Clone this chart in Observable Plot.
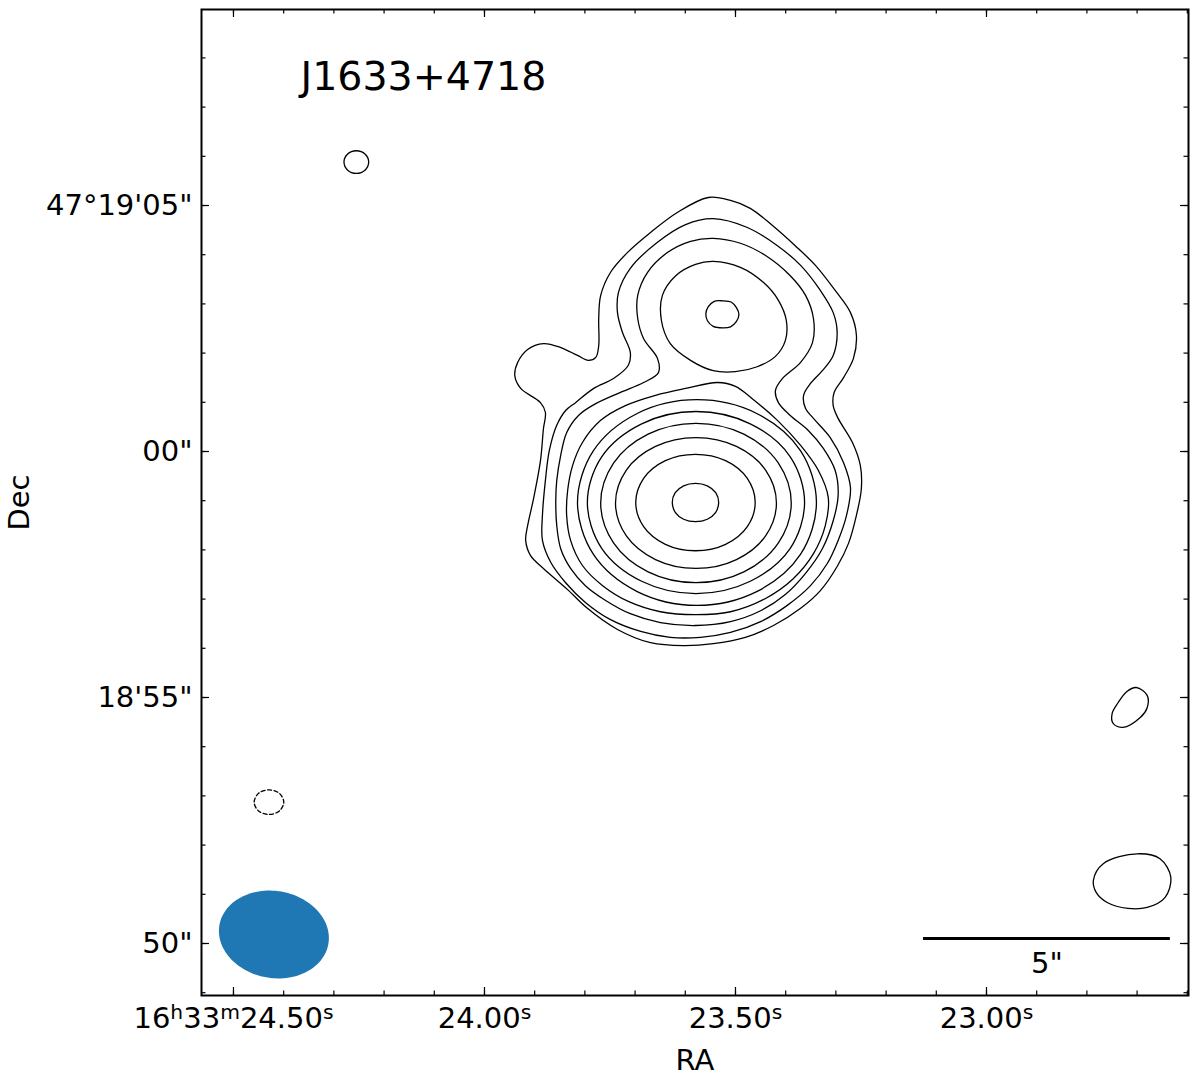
<!DOCTYPE html>
<html>
<head>
<meta charset="utf-8">
<script src="https://cdn.jsdelivr.net/npm/d3@7"></script>
<script src="https://cdn.jsdelivr.net/npm/@observablehq/plot@0.6"></script>
<style>
  html, body { margin: 0; padding: 0; background: #fff; }
  #chart svg { display: block; }
</style>
</head>
<body>
<div id="chart"></div>
<script>
// ---------------- DATA ----------------
const sourceName = "J1633+4718";

// Reference position for offsets: RA 16h33m23.5797s, Dec 47°18'58.963"
const refRA = 23.5797;   // seconds of RA past 16h33m
const refDec = 58.963;   // arcsec past 47°18'

// Contours as [east offset ("), north offset (")] from the reference position
const contour1 = [[-0.26,6.20],[-0.71,6.14],[-1.11,5.98],[-1.56,5.63],[-2.02,5.22],[-2.43,4.82],[-2.83,4.31],[-3.14,3.86],[-3.26,3.40],[-3.20,2.93],[-3.00,2.54],[-2.81,2.24],[-2.79,1.97],[-2.89,1.71],[-3.18,1.22],[-3.34,0.75],[-3.36,0.28],[-3.26,-0.26],[-3.10,-0.83],[-2.87,-1.30],[-2.53,-1.79],[-2.13,-2.15],[-1.58,-2.50],[-1.01,-2.74],[-0.36,-2.87],[0.24,-2.91],[0.91,-2.85],[1.58,-2.58],[2.19,-2.15],[2.59,-1.77],[3.08,-1.34],[3.34,-1.08],[3.44,-0.77],[3.40,-0.47],[3.28,0.08],[3.14,0.85],[3.08,1.50],[3.04,1.83],[3.14,2.03],[3.54,2.32],[3.66,2.58],[3.60,2.85],[3.40,3.11],[3.08,3.23],[2.73,3.15],[2.39,2.99],[2.17,2.89],[2.02,2.95],[1.96,3.19],[1.96,3.74],[1.92,4.21],[1.72,4.68],[1.38,5.08],[0.91,5.49],[0.36,5.90]];

const contour2 = [[-0.36,5.77],[-1.05,5.59],[-1.66,5.22],[-2.13,4.82],[-2.53,4.31],[-2.79,3.86],[-2.87,3.46],[-2.79,2.99],[-2.57,2.68],[-2.33,2.42],[-2.19,2.18],[-2.23,1.91],[-2.39,1.71],[-2.73,1.32],[-3.00,0.81],[-3.14,0.30],[-3.06,-0.26],[-2.89,-0.77],[-2.67,-1.24],[-2.33,-1.69],[-1.86,-2.09],[-1.32,-2.42],[-0.71,-2.64],[-0.10,-2.74],[0.51,-2.74],[1.11,-2.62],[1.72,-2.38],[2.23,-2.03],[2.63,-1.63],[2.93,-1.22],[3.10,-0.77],[3.10,-0.26],[3.04,0.45],[2.96,1.06],[2.81,1.57],[2.63,1.87],[2.43,2.03],[2.06,2.32],[1.66,2.52],[1.36,2.79],[1.32,3.05],[1.48,3.46],[1.58,3.86],[1.56,4.27],[1.32,4.76],[0.77,5.29],[0.20,5.65]];

const contour3 = [[-0.36,5.37],[-0.91,5.27],[-1.42,5.02],[-1.92,4.61],[-2.23,4.21],[-2.39,3.74],[-2.37,3.25],[-2.13,2.85],[-1.76,2.52],[-1.62,2.28],[-1.68,2.03],[-1.92,1.77],[-2.29,1.46],[-2.59,1.10],[-2.83,0.65],[-2.89,0.14],[-2.79,-0.37],[-2.57,-0.94],[-2.23,-1.44],[-1.82,-1.87],[-1.32,-2.20],[-0.71,-2.42],[0.00,-2.50],[0.71,-2.44],[1.32,-2.26],[1.82,-1.99],[2.23,-1.69],[2.53,-1.34],[2.73,-0.94],[2.81,-0.47],[2.83,0.04],[2.81,0.45],[2.73,0.96],[2.61,1.42],[2.37,1.77],[2.02,2.01],[1.52,2.24],[1.05,2.44],[0.75,2.64],[0.77,2.93],[1.05,3.33],[1.17,3.74],[1.17,4.21],[0.97,4.68],[0.57,5.08],[0.10,5.31]];

const contour4North = [[-0.36,4.90],[-0.91,4.78],[-1.38,4.47],[-1.68,4.11],[-1.84,3.70],[-1.82,3.29],[-1.62,2.97],[-1.25,2.76],[-0.81,2.66],[-0.36,2.68],[0.10,2.89],[0.51,3.23],[0.69,3.70],[0.67,4.21],[0.40,4.61],[0.00,4.84]];

const contour4South = [[-0.45,2.44],[-0.81,2.36],[-1.15,2.11],[-1.66,1.67],[-2.13,1.16],[-2.49,0.65],[-2.69,0.10],[-2.63,-0.47],[-2.39,-1.04],[-1.98,-1.55],[-1.42,-1.95],[-0.71,-2.22],[0.00,-2.28],[0.71,-2.22],[1.36,-2.01],[1.88,-1.69],[2.29,-1.28],[2.53,-0.77],[2.61,-0.26],[2.59,0.24],[2.49,0.75],[2.29,1.22],[1.92,1.67],[1.42,1.97],[0.81,2.18],[0.20,2.32]];

const contour5North = [[-0.88,3.82],[-0.83,3.68],[-0.71,3.57],[-0.55,3.55],[-0.36,3.58],[-0.24,3.70],[-0.21,3.84],[-0.26,3.98],[-0.38,4.09],[-0.55,4.10],[-0.73,4.07],[-0.83,3.96]];

const contour5South = [[-2.45,0],[-2.13,-1.05],[-1.24,-1.81],[-0.03,-2.09],[1.18,-1.81],[2.07,-1.05],[2.39,0],[2.07,1.05],[1.18,1.81],[-0.03,2.09],[-1.24,1.81],[-2.13,1.05]];
const contour6 = [[-2.21,0],[-1.92,-0.93],[-1.11,-1.60],[-0.01,-1.85],[1.09,-1.60],[1.90,-0.93],[2.19,0],[1.90,0.93],[1.09,1.60],[-0.01,1.85],[-1.11,1.60],[-1.92,0.93]];
const contour7 = [[-1.94,-0.01],[-1.68,-0.82],[-0.98,-1.41],[-0.01,-1.63],[0.96,-1.41],[1.66,-0.82],[1.92,-0.01],[1.66,0.80],[0.96,1.39],[-0.01,1.61],[-0.98,1.39],[-1.68,0.80]];
const contour8 = [[-1.64,-0.01],[-1.42,-0.68],[-0.83,-1.16],[-0.01,-1.34],[0.81,-1.16],[1.40,-0.68],[1.62,-0.01],[1.40,0.66],[0.81,1.14],[-0.01,1.32],[-0.83,1.14],[-1.42,0.66]];
const contour9 = [[-1.21,0],[-1.05,-0.49],[-0.61,-0.85],[0,-0.98],[0.61,-0.85],[1.05,-0.49],[1.21,0],[1.05,0.49],[0.61,0.85],[0,0.98],[-0.61,0.85],[-1.05,0.49]];
const contour10 = [[-0.47,0],[-0.41,-0.20],[-0.24,-0.34],[0,-0.39],[0.24,-0.34],[0.41,-0.20],[0.47,0],[0.41,0.20],[0.24,0.34],[0,0.39],[-0.24,0.34],[-0.41,0.20]];

// isolated lowest-level blobs
const blobNorthEast = [[6.62,6.92],[6.69,6.76],[6.87,6.69],[7.05,6.76],[7.12,6.92],[7.05,7.08],[6.87,7.15],[6.69,7.08]];
const blobWest = [[-8.93,-3.76],[-9.15,-3.92],[-9.15,-4.17],[-9.01,-4.37],[-8.66,-4.57],[-8.46,-4.49],[-8.44,-4.29],[-8.56,-4.07],[-8.74,-3.84]];
const blobSouthWest = [[-8.06,-7.68],[-8.26,-7.34],[-8.95,-7.14],[-9.41,-7.24],[-9.63,-7.62],[-9.51,-8.03],[-9.15,-8.23],[-8.76,-8.25],[-8.34,-8.13],[-8.12,-7.93]];
// negative contour (dashed)
const negativeContour = [[8.34,-6.09],[8.43,-6.27],[8.64,-6.34],[8.85,-6.27],[8.94,-6.09],[8.85,-5.91],[8.64,-5.84],[8.43,-5.91]];

// restoring beam (arcsec, deg east of north) and its position offset
const beamMajor = 2.24, beamMinor = 1.77, beamPA = 80;
const beamCenter = [8.54, -8.78];

// scale bar
const scaleBarLength = 5;            // arcsec
const scaleBarEnd = [-9.62, -8.86];  // west end offset (")
const scaleBarLabel = "5\"";

// axes
const raMajorTicks = [24.5, 24.0, 23.5, 23.0];
const raTickLabels = ["16ʰ33ᵐ24.50ˢ", "24.00ˢ", "23.50ˢ", "23.00ˢ"];
const decMajorTicks = [65, 60, 55, 50];
const decTickLabels = ["47°19'05\"", "00\"", "18'55\"", "50\""];
const raDomain = [24.5637, 22.5976];
const decDomain = [48.943, 68.984];
const xLabel = "RA", yLabel = "Dec";

// ---------------- BUILD ----------------
const decDeg = 47 + 18 / 60 + refDec / 3600;
const arcsecPerSec = 15 * Math.cos(decDeg * Math.PI / 180);
const toRA = e => refRA + e / arcsecPerSec;
const toDec = n => refDec + n;

const positive = [contour1, contour2, contour3, contour4North, contour4South, contour5North, contour5South,
  contour6, contour7, contour8, contour9, contour10, blobNorthEast, blobWest, blobSouthWest];
const rows = positive.flatMap((c, id) => c.map(([e, n]) => ({id, ra: toRA(e), dec: toDec(n)})));
const negRows = negativeContour.map(([e, n]) => ({ra: toRA(e), dec: toDec(n)}));

const pa = beamPA * Math.PI / 180;
const beamRows = d3.range(0, 360, 3).map(t => {
  const a = t * Math.PI / 180;
  const e = beamCenter[0] + (beamMajor / 2) * Math.cos(a) * Math.sin(pa) + (beamMinor / 2) * Math.sin(a) * Math.cos(pa);
  const n = beamCenter[1] + (beamMajor / 2) * Math.cos(a) * Math.cos(pa) - (beamMinor / 2) * Math.sin(a) * Math.sin(pa);
  return {ra: toRA(e), dec: toDec(n)};
});

const width = 1200, height = 1077;
const mL = 201, mR = 12, mT = 9, mB = 82;
const pxPerSec = (width - mL - mR) / (raDomain[0] - raDomain[1]);
const pxPerArcsec = (height - mT - mB) / (decDomain[1] - decDomain[0]);

const raMinor = d3.range(226, 246).map(i => i / 10).filter(v => v >= raDomain[1] && v <= raDomain[0]);
const decMinor = d3.range(49, 69);

const majLen = 8, minLen = 4.5;
const xTicks = (vals, len) => [
  Plot.ruleX(vals, {x: d => d, y1: () => decDomain[0], y2: () => decDomain[0] + len / pxPerArcsec, stroke: "black", strokeWidth: 1.2}),
  Plot.ruleX(vals, {x: d => d, y1: () => decDomain[1], y2: () => decDomain[1] - len / pxPerArcsec, stroke: "black", strokeWidth: 1.2})
];
const yTicks = (vals, len) => [
  Plot.ruleY(vals, {y: d => d, x1: () => raDomain[0], x2: () => raDomain[0] - len / pxPerSec, stroke: "black", strokeWidth: 1.2}),
  Plot.ruleY(vals, {y: d => d, x1: () => raDomain[1], x2: () => raDomain[1] + len / pxPerSec, stroke: "black", strokeWidth: 1.2})
];

const sbE2 = scaleBarEnd[0], sbE1 = scaleBarEnd[0] + scaleBarLength;

const chart = Plot.plot({
  width, height,
  marginLeft: mL, marginRight: mR, marginTop: mT, marginBottom: mB,
  style: {fontFamily: "DejaVu Sans, sans-serif", fontSize: "28px", color: "black", background: "white"},
  x: {domain: raDomain, axis: null},
  y: {domain: decDomain, axis: null},
  marks: [
    Plot.line(beamRows, {x: "ra", y: "dec", fill: "#1f77b4", stroke: "none", curve: "linear-closed"}),
    Plot.line(rows, {x: "ra", y: "dec", z: "id", curve: "catmull-rom-closed", stroke: "black", strokeWidth: 1.3}),
    Plot.line(negRows, {x: "ra", y: "dec", curve: "catmull-rom-closed", stroke: "black", strokeWidth: 1.3, strokeDasharray: "4,2.5"}),
    Plot.ruleY([toDec(scaleBarEnd[1])], {y: d => d, x1: () => toRA(sbE1), x2: () => toRA(sbE2), stroke: "black", strokeWidth: 3}),
    Plot.text([scaleBarLabel], {x: () => toRA((sbE1 + sbE2) / 2), y: () => toDec(scaleBarEnd[1]), dy: 25, text: d => d, fontSize: 29}),
    Plot.text([sourceName], {frameAnchor: "top-left", dx: 99, dy: 68, text: d => d, textAnchor: "start", lineAnchor: "middle", fontSize: 39.5}),
    ...xTicks(raMinor, minLen), ...xTicks(raMajorTicks, majLen),
    ...yTicks(decMinor, minLen), ...yTicks(decMajorTicks, majLen),
    Plot.frame({stroke: "black", strokeWidth: 2}),
    Plot.text(raMajorTicks, {x: d => d, frameAnchor: "bottom", dy: 23, text: (d, i) => raTickLabels[i], textAnchor: "middle", lineAnchor: "middle", fontSize: 29}),
    Plot.text(decMajorTicks, {y: d => d, frameAnchor: "left", dx: -9, textAnchor: "end", lineAnchor: "middle", text: (d, i) => decTickLabels[i], fontSize: 29}),
    Plot.text([xLabel], {frameAnchor: "bottom", dy: 65, text: d => d, textAnchor: "middle", lineAnchor: "middle", fontSize: 29}),
    Plot.text([yLabel], {frameAnchor: "left", dx: -182, rotate: -90, text: d => d, textAnchor: "middle", lineAnchor: "middle", fontSize: 29})
  ]
});

// render the h/m/s unit markers of the RA labels as real superscripts
const supMap = {"ʰ": "h", "ᵐ": "m", "ˢ": "s"};
d3.select(chart).selectAll("text").each(function () {
  const t = this.textContent;
  if (!/[ʰᵐˢ]/.test(t)) return;
  const parts = t.split(/([ʰᵐˢ])/).filter(s => s.length);
  const el = d3.select(this);
  el.text(null);
  parts.forEach(p => {
    if (supMap[p]) {
      el.append("tspan").attr("font-size", "0.7em").attr("baseline-shift", "45%").text(supMap[p]);
    } else {
      el.append("tspan").text(p);
    }
  });
});

document.getElementById("chart").appendChild(chart);
</script>
</body>
</html>
